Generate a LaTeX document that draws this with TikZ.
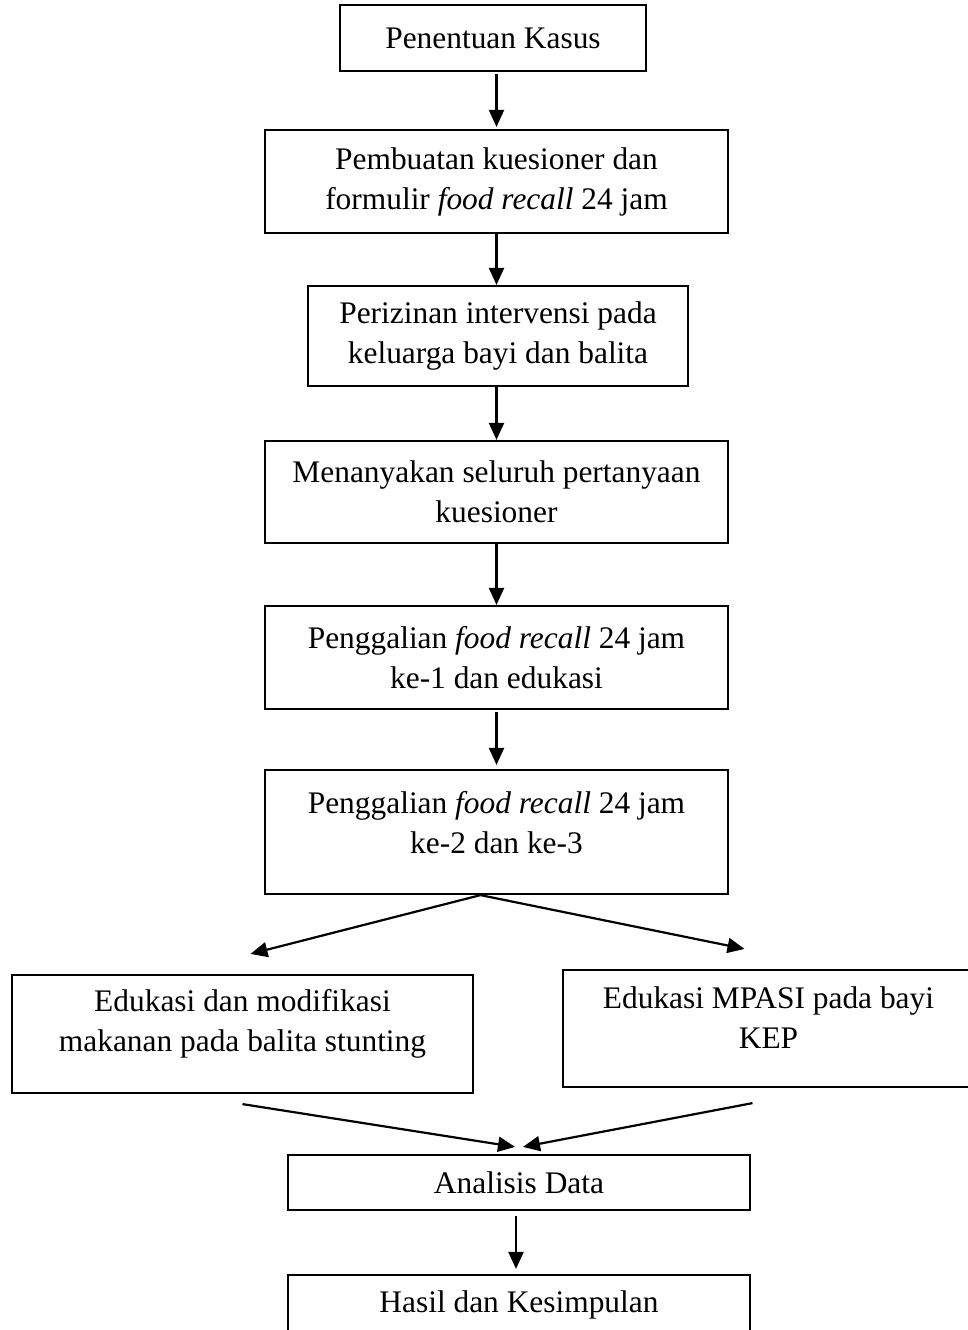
\documentclass[tikz,border=0pt]{standalone}
\usepackage{fontspec}
\setmainfont{Liberation Serif}
\usepackage{tikz}
\usetikzlibrary{arrows.meta}

\tikzset{
  box/.style={draw, line width=1.1pt, align=center, inner sep=0pt},
  flow/.style={line width=1.1pt, -{Triangle[width=7.5pt,length=8.5pt]}}
}

\begin{document}
\begin{tikzpicture}[font=\fontsize{15.7}{20}\selectfont]
      \useasboundingbox (0,0) rectangle (484pt,-665pt);

      \node[box, minimum width=153pt, minimum height=33pt] (kasus) at (246.5pt,-19pt) {Penentuan Kasus};
      \node[box, below of=kasus, node distance=71.75pt, xshift=1.75pt, minimum width=231.5pt, minimum height=51.5pt] (kuesioner) {Pembuatan kuesioner dan\\formulir \textit{food recall} 24 jam};
      \node[box, below of=kuesioner, node distance=77.25pt, xshift=0.75pt, minimum width=190pt, minimum height=50pt] (izin) {Perizinan intervensi pada\\keluarga bayi dan balita};
      \node[box, below of=izin, node distance=78pt, xshift=-0.75pt, minimum width=231.5pt, minimum height=51pt] (tanya) {Menanyakan seluruh pertanyaan\\kuesioner};
      \node[box, below of=tanya, node distance=82.75pt, minimum width=231.5pt, minimum height=51.5pt] (recall1) {Penggalian \textit{food recall} 24 jam\\ke-1 dan edukasi};
      \node[box, below of=recall1, node distance=87.25pt, minimum width=231.5pt, minimum height=62pt, text depth=10pt] (recall2) {Penggalian \textit{food recall} 24 jam\\ke-2 dan ke-3};
      \node[box, below of=recall2, node distance=101pt, xshift=-127pt, minimum width=230.5pt, minimum height=59pt, text depth=14pt] (stunting) {Edukasi dan modifikasi\\makanan pada balita stunting};
      \node[box, below of=recall2, node distance=98.25pt, xshift=136pt, minimum width=205.5pt, minimum height=58.5pt, text depth=11pt] (kep) {Edukasi MPASI pada bayi\\KEP};
      \node[box, below of=recall2, node distance=175.25pt, xshift=11.25pt, minimum width=231pt, minimum height=27.5pt] (analisis) {Analisis Data};
      \node[box, below of=analisis, node distance=61.25pt, minimum width=231pt, minimum height=30pt] (hasil) {Hasil dan Kesimpulan};

      \draw[flow, shorten <=1pt, shorten >=1pt] ([xshift=1.75pt]kasus.south) -- (kuesioner);
      \draw[flow] (kuesioner) -- (kuesioner.south |- izin.north);
      \draw[flow] (tanya.north |- izin.south) -- (tanya);
      \draw[flow] (tanya) -- (recall1);
      \draw[flow, shorten <=1pt, shorten >=2pt] (recall1) -- (recall2);
      \draw[flow] ([xshift=-8pt]recall2.south) -- ([xshift=4pt,yshift=10pt]stunting.north);
      \draw[flow] ([xshift=-8pt]recall2.south) -- ([xshift=-12pt,yshift=10pt]kep.north);
      \draw[flow] ([yshift=-5pt]stunting.south) -- ([xshift=-2pt,yshift=3.5pt]analisis.north);
      \draw[flow] ([xshift=-8pt,yshift=-7.5pt]kep.south) -- ([xshift=2pt,yshift=3.5pt]analisis.north);
      \draw[flow, shorten <=2.5pt, shorten >=2.5pt] ([xshift=-1.5pt]analisis.south) -- ([xshift=-1.5pt]hasil.north);
    \end{tikzpicture}
\end{document}
